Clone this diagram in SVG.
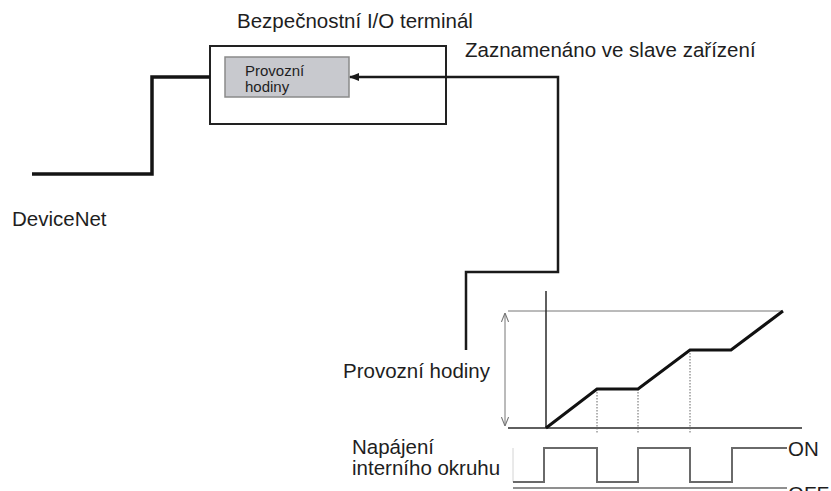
<svg xmlns="http://www.w3.org/2000/svg" width="831" height="491" viewBox="0 0 831 491">
  <style>
    .lbl { font-family: "Liberation Sans", Arial, sans-serif; font-size: 20.5px; fill: #1e1e1e; }
    .small { font-family: "Liberation Sans", Arial, sans-serif; font-size: 15px; fill: #1e1e1e; }
    .bus { fill: none; stroke: #141414; stroke-width: 3.5; stroke-linejoin: miter; }
    .wire { fill: none; stroke: #1a1a1a; stroke-width: 2.5; }
    .axis { fill: none; stroke: #2a2a2a; stroke-width: 1.5; }
    .thin { fill: none; stroke: #777; stroke-width: 1; }
    .ramp { fill: none; stroke: #111; stroke-width: 3; stroke-linejoin: miter; }
    .dots { fill: none; stroke: #666; stroke-width: 1; stroke-dasharray: 1.5 1.5; }
    .wave { fill: none; stroke: #6a6a6a; stroke-width: 2; }
  </style>
  <defs>
    <!-- filled head for the recording wire -->
    <marker id="head" viewBox="0 0 10 10" refX="9" refY="5" markerWidth="4" markerHeight="4" orient="auto" markerUnits="strokeWidth">
      <path d="M0,1 L10,5 L0,9 Z" fill="#1a1a1a"/>
    </marker>
    <!-- open chevron for the range arrow -->
    <marker id="vhead" viewBox="0 0 10 10" refX="10" refY="5" markerWidth="9" markerHeight="9" orient="auto-start-reverse" markerUnits="userSpaceOnUse">
      <path d="M0,1 L10,5 L0,9" fill="none" stroke="#777" stroke-width="1.2"/>
    </marker>
  </defs>

  <rect width="831" height="491" fill="#ffffff"/>

  <!-- Safety I/O terminal with its operating-hours register -->
  <g id="terminal">
    <text class="lbl" x="237" y="28">Bezpečnostní I/O terminál</text>
    <rect x="210" y="46" width="236" height="78" fill="#ffffff" stroke="#222" stroke-width="2"/>
    <rect x="225" y="57" width="124" height="40" fill="#c8c9ce" stroke="#8a8a8a" stroke-width="1.5"/>
    <text class="small" x="245" y="75.5">Provozní</text>
    <text class="small" x="245" y="91.5">hodiny</text>
  </g>

  <g id="devicenet">
    <text class="lbl" x="12" y="226">DeviceNet</text>
  </g>

  <g id="recorded-note">
    <text class="lbl" x="465" y="57">Zaznamenáno ve slave zařízení</text>
  </g>

  <g id="hours-label">
    <text class="lbl" x="343" y="378">Provozní hodiny</text>
  </g>

  <g id="power-label">
    <text class="lbl" x="352" y="454">Napájení</text>
    <text class="lbl" x="352" y="475">interního okruhu</text>
    <text class="lbl" x="788" y="456">ON</text>
    <text class="lbl" x="788" y="501">OFF</text>
  </g>

  <!-- Connectors -->
  <g id="connectors">
    <polyline class="bus" points="32,174 152,174 152,77 210,77"/>
    <polyline class="wire" points="466,350 466,272 558,272 558,77 350,77" marker-end="url(#head)"/>
  </g>

  <!-- Operating-hours chart -->
  <g id="chart">
    <line class="thin" x1="508" y1="311" x2="783" y2="311"/>
    <line class="thin" x1="505" y1="313" x2="505" y2="426" marker-start="url(#vhead)" marker-end="url(#vhead)"/>
    <line class="axis" x1="546" y1="291" x2="546" y2="428"/>
    <line class="axis" x1="508" y1="428" x2="802" y2="428"/>
    <line class="dots" x1="597" y1="389" x2="597" y2="434"/>
    <line class="dots" x1="638" y1="389" x2="638" y2="434"/>
    <line class="dots" x1="690" y1="350" x2="690" y2="434"/>
    <polyline class="ramp" points="546,428 597,389 638,389 690,350 731,350 783,311"/>
  </g>

  <!-- Internal circuit power signal -->
  <g id="power-signal">
    <line x1="513" y1="448" x2="513" y2="482" stroke="#d4d4d4" stroke-width="1"/>
    <polyline class="wave" points="513,482 544,482 544,448 597,448 597,482 638,482 638,448 690,448 690,482 732,482 732,448 787,448"/>
    <line x1="513" y1="488" x2="787" y2="488" stroke="#6a6a6a" stroke-width="1.5"/>
  </g>
</svg>
